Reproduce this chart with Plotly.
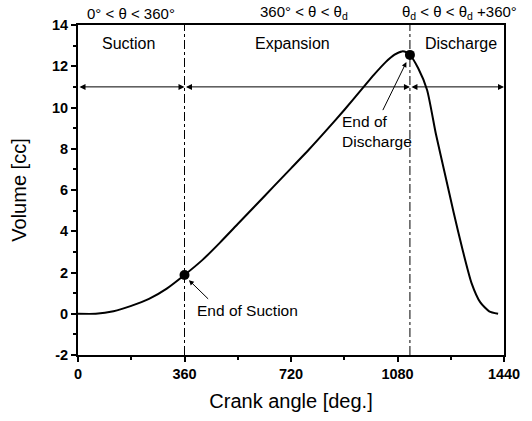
import plotly.graph_objects as go

# Crank angle [deg] and volume [cc]
crank_angle = [0, 60, 120, 180, 240, 300, 360, 420, 480, 540, 600, 660, 720, 780,
               840, 900, 960, 1000, 1040, 1070, 1095, 1110, 1122, 1150, 1180, 1210,
               1240, 1270, 1300, 1330, 1360, 1390, 1420]
volume = [0.0, 0.0, 0.12, 0.38, 0.72, 1.22, 1.88, 2.6, 3.45, 4.35, 5.25, 6.15, 7.05, 7.95,
          8.9, 9.88, 10.9, 11.58, 12.2, 12.56, 12.72, 12.68, 12.55, 11.9, 10.85, 8.7,
          6.8, 4.9, 3.1, 1.5, 0.55, 0.12, 0.0]

events_x = [360, 1122]
events_y = [1.88, 12.55]
boundaries = [0, 360, 1122, 1440]
arrow_level = 11

x_ticks = [0, 360, 720, 1080, 1440]
y_ticks = [-2, 0, 2, 4, 6, 8, 10, 12, 14]

region_names = ["Suction", "Expansion", "Discharge"]
region_x = [172, 724, 1295]
headers = ["0° < θ < 360°", "360° < θ < θ<sub>d</sub>", "θ<sub>d</sub> < θ < θ<sub>d</sub> +360°"]
header_x = [180, 764, 1290]

FONT = "Liberation Sans, Arial, sans-serif"

fig = go.Figure()
fig.add_trace(go.Scatter(x=crank_angle, y=volume, mode="lines",
                         line=dict(color="black", width=2, shape="spline", smoothing=0.6),
                         showlegend=False, hoverinfo="skip"))
fig.add_trace(go.Scatter(x=events_x, y=events_y, mode="markers",
                         marker=dict(color="black", size=10), showlegend=False))

for bx in boundaries[1:3]:
    fig.add_shape(type="line", x0=bx, x1=bx, y0=-2, y1=14, xref="x", yref="y",
                  line=dict(color="black", width=1, dash="dashdot"))

ann = []
for a, b in zip(boundaries[:-1], boundaries[1:]):
    ann.append(dict(x=b, y=arrow_level, ax=a, ay=arrow_level, xref="x", yref="y",
                    axref="x", ayref="y", text="", showarrow=True,
                    arrowhead=2, startarrowhead=2, arrowside="end+start",
                    arrowsize=1.2, startarrowsize=1.2, arrowwidth=1, arrowcolor="black"))
for name, rx in zip(region_names, region_x):
    ann.append(dict(x=rx, y=13.1, xref="x", yref="y", text=name, showarrow=False,
                    font=dict(family=FONT, size=16, color="black")))
for h, hx in zip(headers, header_x):
    ann.append(dict(x=hx, y=1, xref="x", yref="paper", yanchor="bottom", yshift=1,
                    text=h, showarrow=False, font=dict(family=FONT, size=15, color="black")))

ann.append(dict(x=396, y=0.15, xref="x", yref="y", xanchor="left", text="End of Suction",
                showarrow=False, font=dict(family=FONT, size=15.5, color="black")))
ann.append(dict(x=events_x[0] + 15, y=events_y[0] - 0.25, ax=445, ay=0.65, xref="x", yref="y",
                axref="x", ayref="y", text="", showarrow=True, arrowhead=2,
                arrowsize=1, arrowwidth=1, arrowcolor="black"))
ann.append(dict(x=886, y=8.85, xref="x", yref="y", xanchor="left", align="left",
                text="End of<br>Discharge", showarrow=False,
                font=dict(family=FONT, size=15.5, color="black")))
ann.append(dict(x=events_x[1] - 12, y=events_y[1] - 0.35, ax=1028, ay=9.8, xref="x", yref="y",
                axref="x", ayref="y", text="", showarrow=True, arrowhead=2,
                arrowsize=1, arrowwidth=1, arrowcolor="black"))

fig.update_layout(
    width=532, height=421,
    margin=dict(l=78, r=28, t=25, b=64),
    paper_bgcolor="white", plot_bgcolor="white",
    annotations=ann,
    font=dict(family=FONT, color="black"),
)
fig.update_xaxes(range=[0, 1440], tickvals=x_ticks, ticktext=[str(v) for v in x_ticks],
                 ticks="outside", ticklen=5, tickwidth=1.5, tickcolor="black",
                 minor=dict(dtick=180, ticks="outside", ticklen=3, tickcolor="black"),
                 showline=True, linecolor="black", linewidth=2, mirror=True,
                 showgrid=False, zeroline=False,
                 tickfont=dict(family=FONT, size=14.5, color="black", weight="bold"),
                 title=dict(text="Crank angle [deg.]", font=dict(family=FONT, size=20), standoff=13))
fig.update_yaxes(range=[-2, 14], tickvals=y_ticks, ticktext=[str(v) for v in y_ticks],
                 ticks="outside", ticklen=5, tickwidth=1.5, tickcolor="black",
                 minor=dict(dtick=1, ticks="outside", ticklen=3, tickcolor="black"),
                 showline=True, linecolor="black", linewidth=2, mirror=True,
                 showgrid=False, zeroline=False,
                 tickfont=dict(family=FONT, size=14.5, color="black", weight="bold"),
                 title=dict(text="Volume [cc]", font=dict(family=FONT, size=20), standoff=20))

fig.write_html("out.html", config={"displayModeBar": False},
               post_script="document.body.style.margin='0';document.body.style.overflow='hidden';")
